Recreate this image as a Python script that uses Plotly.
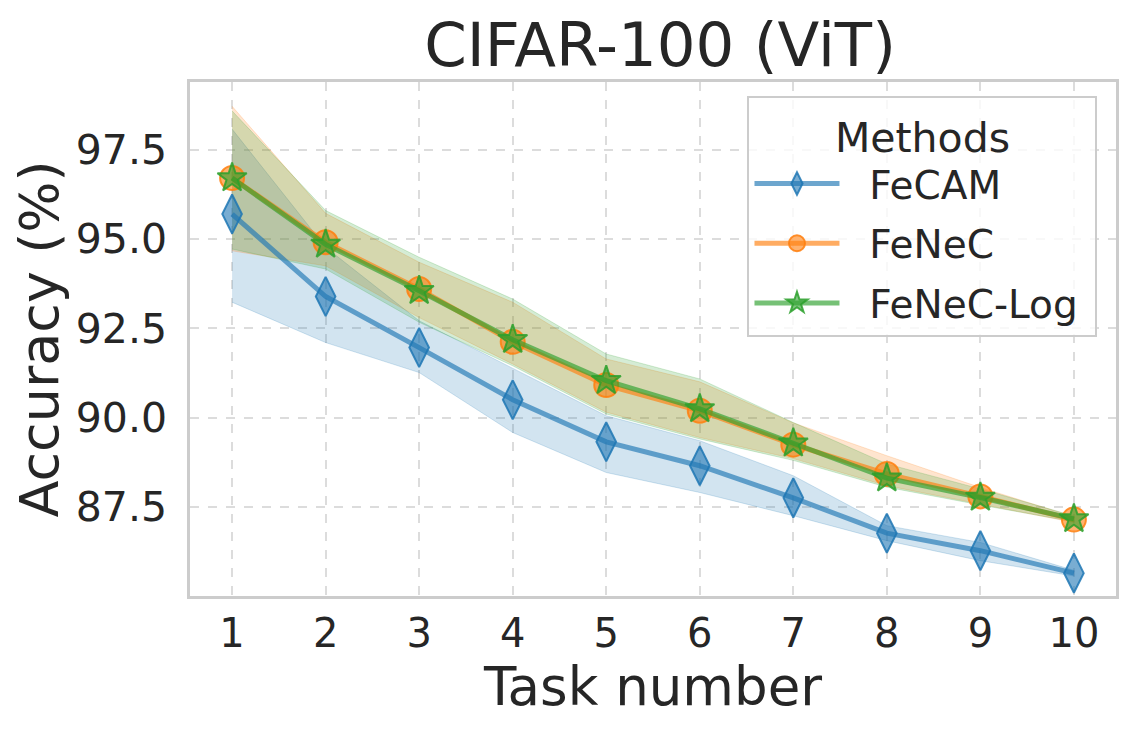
import plotly.graph_objects as go

# Task numbers on the x axis
tasks = [1, 2, 3, 4, 5, 6, 7, 8, 9, 10]

# Mean accuracy per method
fecam_mean = [95.70, 93.39, 91.96, 90.50, 89.32, 88.65, 87.75, 86.76, 86.27, 85.64]
fenec_mean = [96.71, 94.91, 93.60, 92.12, 90.91, 90.19, 89.24, 88.42, 87.79, 87.14]
feneclog_mean = [96.71, 94.85, 93.55, 92.18, 91.03, 90.24, 89.28, 88.30, 87.76, 87.16]

# Shaded band edges
fecam_upper = [98.08, 94.77, 92.71, 91.38, 90.05, 89.35, 88.37, 86.97, 86.50, 85.72]
fecam_lower = [93.23, 92.10, 91.26, 89.58, 88.46, 87.90, 87.25, 86.55, 85.99, 85.56]
fenec_upper = [98.72, 95.72, 94.35, 93.23, 91.64, 91.00, 89.85, 88.93, 88.04, 87.22]
fenec_lower = [94.67, 94.25, 92.80, 91.50, 90.15, 89.44, 88.85, 88.09, 87.58, 87.06]
feneclog_upper = [98.59, 95.80, 94.49, 93.32, 91.78, 91.08, 89.86, 88.70, 88.00, 87.24]
feneclog_lower = [94.72, 94.16, 92.67, 91.45, 90.10, 89.40, 88.80, 88.05, 87.55, 87.08]

y_ticks = [87.5, 90.0, 92.5, 95.0, 97.5]

methods = [
    ("FeCAM", fecam_mean, fecam_upper, fecam_lower, (31, 119, 180), "diamond-tall", 28),
    ("FeNeC", fenec_mean, fenec_upper, fenec_lower, (255, 127, 14), "circle", 24),
    ("FeNeC-Log", feneclog_mean, feneclog_upper, feneclog_lower, (44, 160, 44), "star", 22),
]

FONT = "DejaVu Sans"
TEXT = "#262626"
PAD = "\u00a0\u00a0"  # space between legend sample and label

fig = go.Figure()

# bands first
for name, mean, upper, lower, rgb, sym, size in methods:
    r, g, b = rgb
    fig.add_trace(go.Scatter(
        x=tasks + tasks[::-1],
        y=upper + lower[::-1],
        fill="toself",
        fillcolor=f"rgba({r},{g},{b},0.2)",
        line=dict(color=f"rgba({r},{g},{b},0.2)", width=1),
        mode="lines",
        hoverinfo="skip",
        showlegend=False,
    ))

# lines with markers
for name, mean, upper, lower, rgb, sym, size in methods:
    r, g, b = rgb
    fig.add_trace(go.Scatter(
        x=tasks, y=mean, name=PAD + name + "\u00a0", legendgroup=name,
        mode="lines+markers",
        line=dict(color=f"rgba({r},{g},{b},0.65)", width=5),
        marker=dict(symbol=sym, size=size, color=f"rgba({r},{g},{b},0.6)",
                    line=dict(color=f"rgba({r},{g},{b},0.85)", width=2)),
    ))

# the page body adds an 8px offset, margins are set to compensate
fig.update_layout(
    width=1136, height=740,
    paper_bgcolor="white", plot_bgcolor="white",
    margin=dict(l=182, r=28, t=74, b=152),
    font=dict(family=FONT, color=TEXT),
    title=dict(text="CIFAR-100 (ViT)", x=0.574, xanchor="center", y=0.95, yanchor="middle",
               font=dict(size=61, color=TEXT)),
    legend=dict(
        title=dict(text="Methods", side="top center", font=dict(size=41)),
        font=dict(size=39),
        x=0.98, xanchor="right", y=0.972, yanchor="top",
        bgcolor="rgba(255,255,255,0.8)", bordercolor="#cccccc", borderwidth=2,
        itemwidth=85, tracegroupgap=6,
    ),
)

fig.update_xaxes(
    range=[0.55, 10.45], tickmode="array", tickvals=tasks,
    tickfont=dict(size=40, color=TEXT),
    title=dict(text="Task number", font=dict(size=53, color=TEXT), standoff=12),
    showgrid=True, gridcolor="#dcdcdc", gridwidth=2, griddash="dash",
    showline=True, linecolor="#cccccc", linewidth=2.5, mirror=True,
    zeroline=False, ticks="", ticklabelstandoff=0, automargin=False,
)
fig.update_yaxes(
    range=[85.0, 99.4], tickmode="array", tickvals=y_ticks, tickformat=".1f",
    tickfont=dict(size=41, color=TEXT),
    title=dict(text="Accuracy (%)", font=dict(size=54, color=TEXT), standoff=10),
    showgrid=True, gridcolor="#dcdcdc", gridwidth=2, griddash="dash",
    showline=True, linecolor="#cccccc", linewidth=2.5, mirror=True,
    zeroline=False, ticks="", ticklabelstandoff=12, automargin=False,
)

fig.write_html("out.html")
